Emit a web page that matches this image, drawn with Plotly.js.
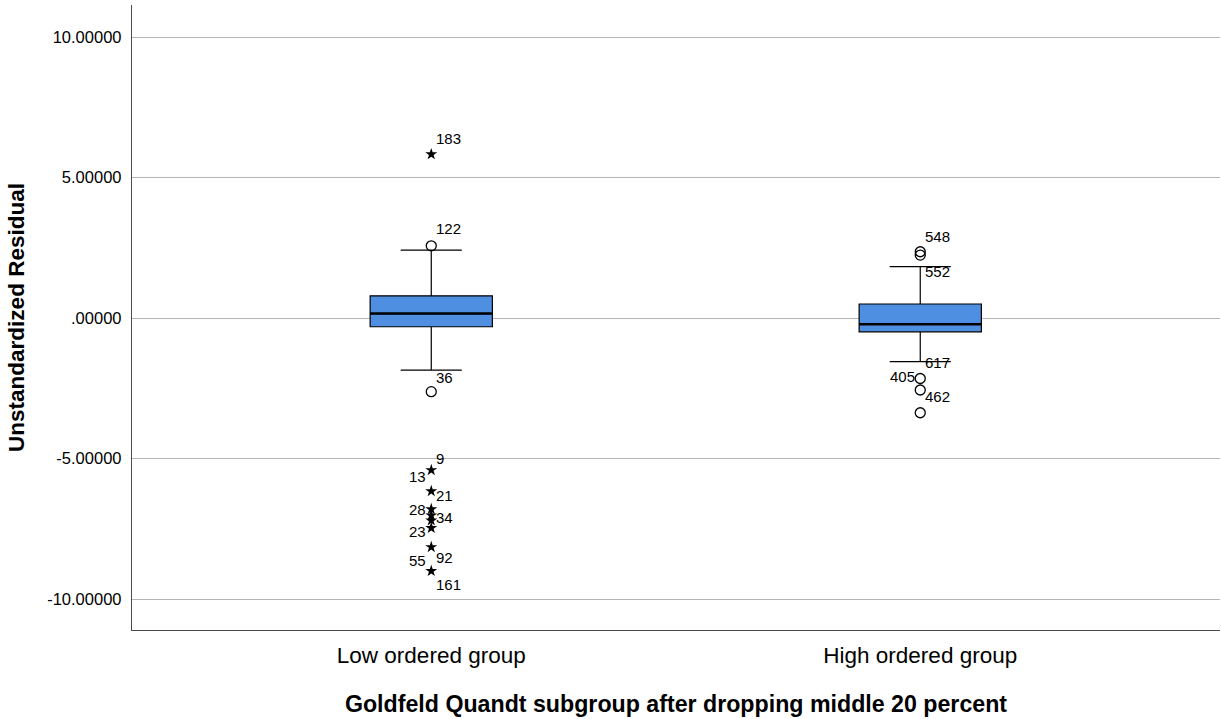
<!DOCTYPE html>
<html>
<head>
<meta charset="utf-8">
<script src="https://cdn.plot.ly/plotly-3.0.1.min.js"></script>
<style>
  html, body { margin: 0; padding: 0; background: #ffffff; }
  #chart { width: 1221px; height: 719px; }
</style>
</head>
<body>
<div id="chart"></div>
<script>
// Groups and box summaries (Tukey boxes, whiskers at the last non-outlying value)
const groups = ['Low ordered group', 'High ordered group'];
const q1 = [-0.31, -0.49];
const medians = [0.16, -0.22];
const q3 = [0.79, 0.50];
const lowerWhisker = [-1.85, -1.55];
const upperWhisker = [2.42, 1.83];

// Outlying residuals: 'o' = beyond 1.5 IQR, '*' = beyond 3 IQR
const lowOutliers = [5.83, 2.57, -2.62, -5.41, -6.16, -6.80, -7.02, -7.20, -7.47, -8.15, -9.00];
const lowKinds = ['*', 'o', 'o', '*', '*', '*', '*', '*', '*', '*', '*'];
const highOutliers = [2.36, 2.24, -2.15, -2.56, -3.37];
const highKinds = ['o', 'o', 'o', 'o', 'o'];

// Case numbers: [group index, outlier index, case id]
const caseLabels = [
  [0, 0, '183'], [0, 1, '122'], [0, 2, '36'],
  [0, 3, '9'], [0, 3, '13'], [0, 4, '21'], [0, 5, '28'], [0, 6, '34'],
  [0, 8, '23'], [0, 9, '92'], [0, 10, '55'], [0, 10, '161'],
  [1, 0, '548'], [1, 1, '552'], [1, 2, '617'], [1, 2, '405'], [1, 3, '462']
];

// Y tick values and their printed labels
const yTickVals = [-10, -5, 0, 5, 10];
const yTickText = ['-10.00000', '-5.00000', '.00000', '5.00000', '10.00000'];

// Label placement for each case id: side of the marker and vertical offset in px
const labelPlacement = {
  '183': ['r', 16], '122': ['r', 17], '36': ['r', 14],
  '9': ['r', 12], '13': ['l', -6], '21': ['r', -4], '28': ['l', 0], '34': ['r', -2],
  '23': ['l', -4], '92': ['r', -10], '55': ['l', 10], '161': ['r', -14],
  '548': ['r', 15], '552': ['r', -16], '617': ['r', 16], '405': ['l', 2], '462': ['r', -6]
};

const FONT = 'Arial, "Liberation Sans", sans-serif';
const BOX_W = 0.25;
const BOX_FILL = '#4f8fe2';

const traces = [];
groups.forEach((g, i) => {
  traces.push({
    type: 'box',
    x: [i],
    q1: [q1[i]], median: [medians[i]], q3: [q3[i]],
    lowerfence: [lowerWhisker[i]], upperfence: [upperWhisker[i]],
    width: BOX_W,
    whiskerwidth: 0.5,
    fillcolor: BOX_FILL,
    line: { color: '#000000', width: 1.2 },
    boxpoints: false,
    hoverinfo: 'skip',
    showlegend: false
  });
  // heavier median bar across the box
  traces.push({
    type: 'scatter', mode: 'lines',
    x: [i - BOX_W / 2, i + BOX_W / 2],
    y: [medians[i], medians[i]],
    line: { color: '#000000', width: 2.6 },
    hoverinfo: 'skip', showlegend: false
  });
});

function outlierTraces(gi, vals, kinds) {
  const mild = vals.filter((v, k) => kinds[k] === 'o');
  const extreme = vals.filter((v, k) => kinds[k] === '*');
  traces.push({
    type: 'scatter', mode: 'markers',
    x: mild.map(() => gi), y: mild,
    marker: { symbol: 'circle-open', size: 10, color: '#000000', line: { width: 1.3, color: '#000000' } },
    hoverinfo: 'y', showlegend: false
  });
  traces.push({
    type: 'scatter', mode: 'markers',
    x: extreme.map(() => gi), y: extreme,
    marker: { symbol: 'star', size: 9, color: '#000000', line: { width: 0 } },
    hoverinfo: 'y', showlegend: false
  });
}
outlierTraces(0, lowOutliers, lowKinds);
outlierTraces(1, highOutliers, highKinds);

const outlierSets = [lowOutliers, highOutliers];
const annotations = caseLabels.map(([gi, oi, id]) => {
  const [side, up] = labelPlacement[id];
  return {
    x: gi, y: outlierSets[gi][oi], xref: 'x', yref: 'y',
    text: id, showarrow: false,
    xanchor: side === 'r' ? 'left' : 'right',
    yanchor: 'middle',
    xshift: side === 'r' ? 3 : -3,
    yshift: up,
    font: { family: FONT, size: 15, color: '#000000' }
  };
});

const layout = {
  width: 1221, height: 719,
  margin: { l: 132, r: 1, t: 5, b: 89 },
  paper_bgcolor: '#ffffff', plot_bgcolor: '#ffffff',
  font: { family: FONT, color: '#000000' },
  xaxis: {
    range: [-0.612, 1.613],
    tickvals: [0, 1], ticktext: groups,
    ticks: '', showgrid: false, zeroline: false,
    showline: true, linecolor: '#4a4a4a', linewidth: 1.2,
    ticklabelstandoff: 5,
    tickfont: { family: FONT, size: 22.5, color: '#000000' },
    title: { text: '<b>Goldfeld Quandt subgroup after dropping middle 20 percent</b>',
             font: { family: FONT, size: 23.2, color: '#000000' }, standoff: 28 }
  },
  yaxis: {
    range: [-11.1, 11.14],
    tickvals: yTickVals, ticktext: yTickText,
    ticks: '', zeroline: false,
    showgrid: true, gridcolor: '#b4b4b4', gridwidth: 1,
    showline: true, linecolor: '#4a4a4a', linewidth: 1.2,
    ticklabelstandoff: 6,
    tickfont: { family: FONT, size: 16.5, color: '#000000' },
    title: { text: '<b>Unstandardized Residual</b>',
             font: { family: FONT, size: 22.5, color: '#000000' }, standoff: 16 }
  },
  annotations: annotations,
  showlegend: false
};

Plotly.newPlot('chart', traces, layout, { staticPlot: true, displayModeBar: false });
</script>
</body>
</html>
